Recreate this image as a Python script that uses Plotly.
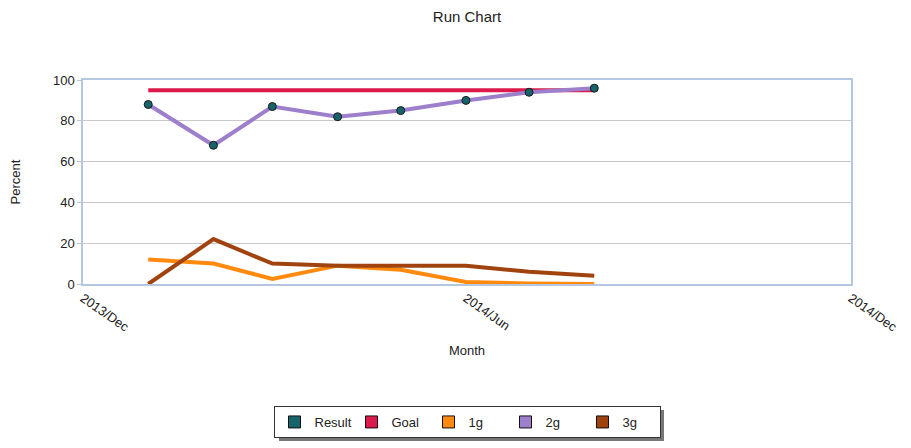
import plotly.graph_objects as go

months = ["2014-01-01", "2014-02-01", "2014-03-01", "2014-04-01",
          "2014-05-01", "2014-06-01", "2014-07-01", "2014-08-01"]
result = [88, 68, 87, 82, 85, 90, 94, 96]
goal = [95, 95, 95, 95, 95, 95, 95, 95]
g1 = [12, 10, 2.5, 9, 7, 1, 0.3, 0]
g2 = [88, 68, 87, 82, 85, 90, 94, 96]
g3 = [0, 22, 10, 9, 9, 9, 6, 4]

x_ticks = ["2013-12-01", "2014-06-01", "2014-12-01"]
x_tick_labels = ["2013/Dec", "2014/Jun", "2014/Dec"]

COLORS = {
    "Result": "#17636b",
    "Goal": "#dc1a4c",
    "1g": "#ff8a0d",
    "2g": "#9d7fcb",
    "3g": "#a0430e",
}
FONT = dict(family="Liberation Sans, Arial, sans-serif", size=13, color="#222222")

# the page body adds an 8px offset, so the figure is laid out 8px up/left
OFF = 8
L, T, R, B = 83 - OFF, 80 - OFF, 851 - OFF, 284 - OFF
PW, PH = R - L, B - T

fig = go.Figure()

# lines (legend handled by swatch traces below)
fig.add_trace(go.Scatter(x=months, y=goal, mode="lines", showlegend=False,
                         line=dict(color=COLORS["Goal"], width=4)))
fig.add_trace(go.Scatter(x=months, y=g1, mode="lines", showlegend=False,
                         line=dict(color=COLORS["1g"], width=4)))
fig.add_trace(go.Scatter(x=months, y=g3, mode="lines", showlegend=False,
                         line=dict(color=COLORS["3g"], width=4)))
fig.add_trace(go.Scatter(x=months, y=g2, mode="lines", showlegend=False,
                         line=dict(color=COLORS["2g"], width=4)))
fig.add_trace(go.Scatter(x=months, y=result, mode="markers", showlegend=False,
                         marker=dict(color=COLORS["Result"], size=8,
                                     line=dict(color="#1a1a1a", width=1))))

# rectangular legend swatches
for name in ["Result", "Goal", "1g", "2g", "3g"]:
    fig.add_trace(go.Bar(x=[None], y=[None], name=name,
                         marker=dict(color=COLORS[name], line=dict(color="#111111", width=1))))

# drop shadow behind the legend box
lx0, lx1, ly0, ly1 = 275 - OFF, 660 - OFF, 406 - OFF, 437 - OFF
fig.add_shape(type="rect", xref="paper", yref="paper", layer="below",
              x0=(lx0 + 4 - L) / PW, x1=(lx1 + 4 - L) / PW,
              y0=(B - ly0 - 4) / PH, y1=(B - ly1 - 4) / PH,
              fillcolor="#777777", line=dict(width=0))

fig.update_layout(
    width=911, height=448,
    title=dict(text="Run Chart", x=(467 - OFF) / 911, xanchor="center",
               y=1 - (17 - OFF) / 448, yanchor="middle",
               font=dict(family=FONT["family"], size=15, color="#222222")),
    font=FONT,
    plot_bgcolor="white",
    paper_bgcolor="white",
    margin=dict(l=L, r=911 - R, t=T, b=448 - B, autoexpand=False),
    showlegend=True,
    legend=dict(orientation="h", x=0.5, xanchor="center",
                y=(B - ly0) / PH, yanchor="top",
                bordercolor="#333333", borderwidth=1, bgcolor="white",
                font=dict(family=FONT["family"], size=13, color="#222222"),
                itemwidth=30, entrywidth=32, tracegroupgap=0),
    xaxis=dict(
        type="date",
        range=["2013-12-01", "2014-12-01"],
        tickmode="array", tickvals=x_ticks, ticktext=x_tick_labels,
        tickangle=35, showgrid=False, zeroline=False, automargin=False,
        showline=True, linecolor="#b4c6e0", linewidth=1.5, mirror=True,
        ticks="outside", ticklen=0, tickfont=dict(size=13),
        title=dict(text="Month", standoff=12, font=dict(size=13)),
    ),
    yaxis=dict(
        range=[0, 100], dtick=20, automargin=False,
        showgrid=True, gridcolor="#c8c8c8", gridwidth=1, zeroline=False,
        showline=True, linecolor="#b4c6e0", linewidth=1.5, mirror=True,
        ticks="outside", ticklen=4, tickcolor="#b4c6e0", tickfont=dict(size=13),
        title=dict(text="Percent", standoff=30, font=dict(size=13)),
    ),
)

fig.write_html("out.html")
